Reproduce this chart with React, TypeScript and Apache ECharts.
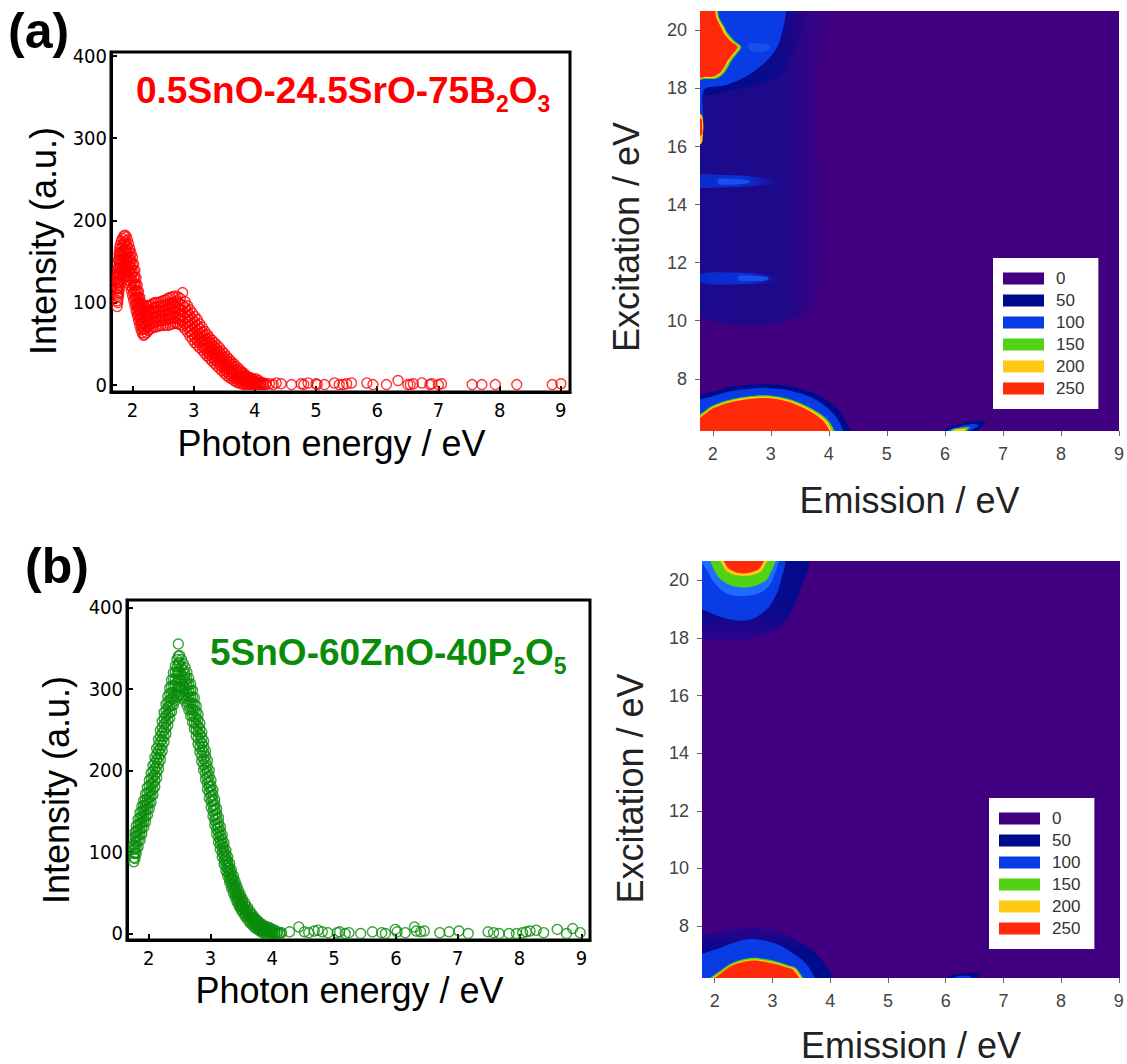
import React, { useEffect, useRef } from 'react';
import * as echarts from 'echarts';

const SANS = 'Liberation Sans, Arial, Helvetica, sans-serif';
const NARROW = 'Liberation Sans Narrow, Arial Narrow, DejaVu Sans Condensed, sans-serif';

// ---------- tick labels ----------
const scatterXTicks = [2, 3, 4, 5, 6, 7, 8, 9];
const scatterYTicks = [0, 100, 200, 300, 400];
const heatXTicks = [2, 3, 4, 5, 6, 7, 8, 9];
const heatYTicks = [8, 10, 12, 14, 16, 18, 20];
const legendLevels = ['0', '50', '100', '150', '200', '250'];

// ---------- spectrum (a): rows [x, y1, y2, ...] read across the dense band ----------
const redDenseRows = [
  [1.75, 95, 102, 110, 117, 124, 130], [1.76, 100, 108, 117, 126, 134, 141],
  [1.77, 106, 115, 124, 134, 143, 152], [1.78, 112, 121, 131, 141, 150, 160],
  [1.79, 118, 127, 137, 147, 157, 166], [1.8, 124, 133, 142, 152, 161, 170],
  [1.82, 130, 139, 148, 157, 166, 175], [1.84, 134, 143, 152, 160, 169, 178],
  [1.86, 137, 146, 155, 163, 172, 181], [1.88, 138, 147, 156, 165, 174, 182],
  [1.9, 136, 145, 154, 163, 171, 180], [1.92, 132, 141, 150, 159, 167, 176],
  [1.94, 127, 136, 145, 154, 162, 171], [1.96, 121, 130, 139, 148, 156, 165],
  [1.98, 115, 124, 133, 142, 151, 160], [2.0, 109, 118, 127, 136, 146, 155],
  [2.02, 103, 112, 121, 130, 138, 147], [2.04, 97, 105, 114, 122, 131, 139],
  [2.06, 90, 98, 106, 114, 122, 130], [2.08, 84, 91, 98, 106, 114, 121],
  [2.1, 78, 85, 92, 99, 106, 113], [2.12, 72, 79, 86, 92, 99, 106],
  [2.14, 67, 74, 80, 87, 94, 100], [2.16, 63, 70, 76, 83, 90, 97],
  [2.18, 60, 67, 74, 81, 88, 95], [2.2, 61, 68, 75, 81, 88, 95],
  [2.23, 63, 70, 76, 83, 89, 96], [2.26, 66, 72, 78, 84, 90, 96],
  [2.3, 68, 74, 80, 86, 91, 97], [2.34, 70, 76, 82, 88, 93, 99],
  [2.38, 70, 76, 82, 88, 94, 100], [2.42, 71, 77, 83, 89, 95, 100],
  [2.46, 72, 78, 84, 90, 96, 101], [2.5, 72, 78, 84, 90, 96, 102],
  [2.54, 73, 79, 85, 91, 97, 103], [2.58, 72, 79, 85, 92, 98, 105],
  [2.62, 73, 80, 86, 93, 99, 106], [2.66, 74, 81, 87, 94, 100, 107],
  [2.7, 75, 81, 88, 94, 101, 108], [2.74, 74, 80, 87, 93, 100, 107],
  [2.78, 73, 79, 85, 92, 98, 105], [2.82, 71, 77, 84, 90, 97, 112],
  [2.86, 68, 74, 81, 87, 94, 101], [2.9, 64, 70, 76, 83, 89, 96],
  [2.94, 59, 65, 71, 78, 84, 91], [2.98, 55, 61, 67, 74, 80, 87],
  [3.02, 51, 57, 63, 70, 76, 83], [3.06, 48, 54, 60, 66, 72, 79],
  [3.1, 45, 51, 57, 62, 68, 74], [3.14, 42, 47, 53, 59, 64, 70],
  [3.18, 38, 44, 49, 55, 60, 65], [3.22, 35, 40, 45, 51, 56, 61],
  [3.26, 32, 37, 42, 47, 52, 57], [3.3, 29, 34, 39, 44, 49, 54],
  [3.34, 26, 31, 36, 41, 46, 51], [3.38, 23, 28, 33, 38, 43, 48],
  [3.42, 20, 25, 30, 35, 40, 45], [3.46, 17, 22, 27, 32, 36, 41],
  [3.5, 14, 19, 24, 28, 33, 38], [3.54, 11, 16, 20, 25, 29, 34],
  [3.58, 9, 13, 18, 22, 27, 31], [3.62, 7, 11, 15, 19, 24, 28],
  [3.66, 5, 9, 13, 17, 21, 25], [3.7, 3, 7, 11, 14, 18, 22],
  [3.74, 2, 5, 9, 12, 16, 19], [3.78, 1, 4, 7, 10, 13, 16],
  [3.82, 0, 3, 6, 9, 11, 14], [3.86, 0, 2, 4, 7, 9, 11],
  [3.9, 0, 2, 4, 6, 9], [3.94, 0, 1, 3, 6, 8], [3.98, 0, 2, 4, 6],
  [4.02, 0, 1, 4, 7], [4.06, 0, 2, 5], [4.1, 0, 1, 3], [4.14, 0, 2], [4.18, 0, 1],
];
const redTail = [
  [4.24, 1], [4.3, 0], [4.35, 2], [4.43, 1], [4.6, 0], [4.76, 1], [4.8, 0], [4.87, 2],
  [5.0, 1], [5.02, 0], [5.14, 0], [5.3, 2], [5.38, 0], [5.44, 0], [5.5, 1], [5.58, 2],
  [5.83, 2], [5.93, 0], [6.15, 0], [6.34, 5], [6.5, 0], [6.54, 0], [6.59, 1], [6.73, 2],
  [6.86, 0], [6.89, 1], [7.0, 0], [7.05, 1], [7.55, 0], [7.71, 0], [7.93, 0], [8.28, 0],
  [8.86, 0], [9.0, 1],
];

// ---------- spectrum (b) ----------
const greenDenseRows = [
  [1.76, 88, 93, 98, 103, 108], [1.78, 92, 99, 106, 113, 119, 124],
  [1.8, 98, 105, 112, 119, 126, 132], [1.83, 106, 113, 120, 127, 134, 140],
  [1.86, 114, 121, 128, 135, 142, 148], [1.89, 122, 129, 136, 143, 150, 156],
  [1.92, 130, 137, 143, 150, 157, 163], [1.95, 137, 144, 151, 157, 164, 171],
  [1.98, 145, 152, 159, 165, 172, 179], [2.01, 153, 160, 167, 174, 181, 188],
  [2.04, 161, 168, 175, 183, 190, 197], [2.07, 170, 177, 184, 192, 199, 206],
  [2.1, 180, 187, 194, 202, 209, 216], [2.13, 191, 198, 205, 213, 220, 227],
  [2.16, 202, 209, 216, 224, 231, 238], [2.19, 213, 220, 227, 235, 242, 249],
  [2.22, 224, 231, 238, 246, 253, 260], [2.25, 235, 242, 249, 257, 264, 271],
  [2.28, 245, 252, 259, 267, 274, 281], [2.31, 255, 262, 269, 277, 284, 291],
  [2.34, 264, 271, 279, 286, 294, 301], [2.37, 272, 280, 288, 295, 303, 311],
  [2.4, 280, 288, 296, 304, 312, 320], [2.43, 286, 294, 303, 311, 320, 328],
  [2.46, 290, 299, 308, 318, 327, 336], [2.48, 292, 302, 311, 321, 331, 340, 355],
  [2.5, 293, 303, 312, 322, 332, 341], [2.53, 292, 301, 310, 318, 327, 336],
  [2.56, 289, 297, 306, 314, 323, 331], [2.59, 285, 293, 301, 310, 318, 326],
  [2.62, 280, 288, 296, 304, 312, 320], [2.65, 274, 282, 290, 297, 305, 313],
  [2.68, 267, 275, 283, 290, 298, 306], [2.71, 259, 267, 275, 282, 290, 298],
  [2.74, 251, 258, 266, 274, 281, 289], [2.77, 242, 249, 257, 264, 272, 279],
  [2.8, 232, 239, 247, 254, 262, 269], [2.83, 222, 229, 236, 244, 251, 258],
  [2.86, 211, 218, 225, 233, 240, 247], [2.89, 200, 207, 214, 222, 229, 236],
  [2.92, 189, 196, 203, 210, 217, 224], [2.95, 177, 184, 191, 198, 205, 212],
  [2.98, 166, 173, 180, 186, 193, 200], [3.01, 155, 162, 168, 175, 181, 188],
  [3.04, 144, 150, 157, 163, 170, 176], [3.07, 133, 139, 145, 152, 158, 164],
  [3.1, 122, 128, 134, 141, 147, 153], [3.13, 112, 118, 124, 130, 136, 142],
  [3.16, 103, 109, 114, 120, 125, 131], [3.19, 94, 99, 105, 110, 116, 121],
  [3.22, 85, 90, 96, 101, 106, 111], [3.25, 77, 82, 87, 92, 97, 102],
  [3.28, 70, 75, 80, 84, 89, 94], [3.31, 63, 67, 72, 77, 81, 86],
  [3.34, 56, 60, 65, 69, 74, 78], [3.37, 50, 54, 58, 63, 67, 71],
  [3.4, 44, 48, 52, 56, 60, 64], [3.43, 39, 43, 46, 50, 54, 58],
  [3.46, 34, 37, 41, 45, 48, 52], [3.49, 30, 33, 36, 40, 43, 47],
  [3.52, 26, 29, 32, 35, 39, 42], [3.56, 21, 24, 27, 30, 34, 37],
  [3.6, 17, 20, 23, 26, 29, 32], [3.64, 13, 16, 19, 21, 24, 27],
  [3.68, 10, 13, 15, 18, 20, 23], [3.72, 7, 10, 12, 14, 17, 19],
  [3.76, 5, 7, 9, 11, 14, 16], [3.8, 3, 5, 7, 9, 11, 13],
  [3.84, 1, 3, 5, 7, 9, 11], [3.88, 0, 2, 4, 6, 9], [3.92, 0, 2, 4, 6, 8],
  [3.96, 0, 1, 3, 5, 7], [4.0, 0, 2, 5], [4.04, 0, 1, 4], [4.08, 0, 2], [4.12, 0, 1],
];
const greenTail = [
  [4.15, 1], [4.28, 2], [4.43, 8], [4.52, 2], [4.59, 1], [4.68, 3], [4.74, 4], [4.81, 2],
  [4.9, 1], [5.05, 1], [5.09, 2], [5.18, 0], [5.24, 1], [5.43, 0], [5.62, 2], [5.77, 1],
  [5.83, 0], [5.99, 5], [6.02, 2], [6.15, 1], [6.3, 8], [6.33, 3], [6.4, 2], [6.46, 3],
  [6.71, 1], [6.86, 2], [7.02, 3], [7.17, 0], [7.49, 2], [7.58, 1], [7.67, 0], [7.83, 0],
  [7.95, 0], [8.05, 1], [8.11, 2], [8.17, 3], [8.27, 4], [8.39, 1], [8.61, 5], [8.76, 0],
  [8.86, 6], [8.98, 1],
];

// ---------- excitation-emission map (a): contour outlines [emission, excitation] ----------
const aZero = [[1.6, 5.9], [9.2, 5.9], [9.2, 21], [1.6, 21]];
const aHaze = [[1.6, 21], [4.0, 21], [3.9, 19.2], [3.75, 18.2], [3.72, 10.5], [1.6, 10.5]];
const aTopNavy = [[1.6, 21], [3.55, 21], [3.45, 19.5], [3.2, 18.5], [2.6, 18.05], [1.6, 17.9]];
const aTopBlue = [[1.6, 21], [3.2, 21], [3.15, 19.6], [2.95, 19.0], [2.6, 18.45], [2.2, 18.1], [1.85, 17.95], [1.82, 16.5], [1.6, 16.4]];
const aTopGlow = [[2.62, 19.55], [2.95, 19.52], [3.0, 19.4], [2.9, 19.28], [2.65, 19.3]];
const aTopGreen = [[1.6, 21], [2.04, 21], [2.11, 20.45], [2.2, 20.12], [2.26, 19.9], [2.37, 19.65], [2.49, 19.43], [2.41, 19.18], [2.32, 18.95], [2.26, 18.72], [2.2, 18.54], [2.12, 18.4], [2.03, 18.33], [1.86, 18.33], [1.6, 18.28]];
const aTopYellow = [[1.6, 21], [2.02, 21], [2.09, 20.45], [2.18, 20.12], [2.24, 19.88], [2.34, 19.63], [2.46, 19.43], [2.38, 19.19], [2.29, 18.96], [2.23, 18.74], [2.17, 18.56], [2.09, 18.43], [2.0, 18.36], [1.86, 18.36], [1.6, 18.31]];
const aTopRed = [[1.6, 21], [2.0, 21], [2.06, 20.45], [2.14, 20.12], [2.2, 19.88], [2.31, 19.63], [2.43, 19.43], [2.35, 19.2], [2.26, 18.97], [2.2, 18.74], [2.14, 18.57], [2.06, 18.46], [1.98, 18.4], [1.86, 18.4], [1.6, 18.34]];
const aSliverYellow = [[1.6, 17.15], [1.8, 17.1], [1.835, 16.8], [1.83, 16.4], [1.8, 16.1], [1.6, 16.05]];
const aSliverRed = [[1.6, 17.0], [1.8, 16.95], [1.815, 16.7], [1.81, 16.4], [1.6, 16.3]];
const aStreakHigh = [[1.6, 15.0], [2.2, 15.02], [2.7, 14.96], [3.2, 14.8], [2.7, 14.64], [2.2, 14.6], [1.6, 14.62]];
const aStreakHighCore = [[2.1, 14.88], [2.55, 14.86], [2.65, 14.79], [2.55, 14.72], [2.1, 14.7]];
const aStreakLow = [[1.8, 11.62], [2.4, 11.66], [2.9, 11.6], [3.15, 11.45], [2.9, 11.3], [2.4, 11.26], [1.8, 11.3]];
const aStreakLowCore = [[2.45, 11.54], [2.9, 11.52], [2.97, 11.45], [2.9, 11.38], [2.45, 11.38]];
const aBotNavy = [[1.6, 5.9], [1.6, 7.25], [2.0, 7.55], [2.4, 7.75], [2.9, 7.82], [3.3, 7.75], [3.75, 7.5], [4.1, 7.05], [4.3, 6.5], [4.4, 5.9]];
const aBotBlue = [[1.6, 5.9], [1.6, 7.1], [2.0, 7.4], [2.4, 7.6], [2.9, 7.68], [3.3, 7.6], [3.7, 7.35], [4.0, 6.95], [4.18, 6.5], [4.25, 5.9]];
const aBotGreen = [[1.6, 5.9], [1.6, 6.62], [1.78, 6.78], [2.0, 7.08], [2.36, 7.31], [2.76, 7.42], [2.99, 7.42], [3.3, 7.31], [3.6, 7.08], [3.85, 6.8], [4.02, 6.48], [4.12, 5.9]];
const aBotYellow = [[1.6, 5.9], [1.6, 6.57], [1.78, 6.72], [2.0, 7.03], [2.36, 7.27], [2.76, 7.38], [2.99, 7.38], [3.3, 7.27], [3.58, 7.04], [3.83, 6.76], [3.99, 6.46], [4.08, 5.9]];
const aBotRed = [[1.6, 5.9], [1.6, 6.5], [1.78, 6.66], [2.01, 6.99], [2.36, 7.22], [2.76, 7.33], [2.99, 7.33], [3.29, 7.22], [3.57, 6.99], [3.8, 6.72], [3.95, 6.43], [4.04, 5.9]];
const aSmallNavy = [[5.9, 5.9], [6.0, 6.25], [6.3, 6.45], [6.55, 6.56], [6.7, 6.5], [6.6, 6.3], [6.45, 5.9]];
const aSmallBlue = [[6.0, 5.9], [6.05, 6.22], [6.3, 6.38], [6.5, 6.45], [6.58, 6.38], [6.45, 6.22], [6.35, 5.9]];
const aSmallGreen = [[6.05, 5.9], [6.1, 6.22], [6.3, 6.32], [6.43, 6.33], [6.38, 6.22], [6.3, 5.9]];
const aSmallYellow = [[6.1, 5.9], [6.14, 6.22], [6.3, 6.28], [6.36, 6.24], [6.3, 5.9]];

// ---------- excitation-emission map (b) ----------
const bZero = [[1.6, 5.9], [9.2, 5.9], [9.2, 21], [1.6, 21]];
const bTopNavy = [[1.6, 21], [3.6, 21], [3.45, 19.5], [3.15, 18.4], [2.6, 17.95], [2.1, 17.95], [1.6, 18.0]];
const bTopBlue = [[1.6, 21], [3.18, 21], [3.12, 19.8], [2.95, 19.1], [2.7, 18.7], [2.45, 18.6], [2.15, 18.7], [1.9, 18.9], [1.6, 19.2]];
const bTopGlow = [[1.7, 21], [3.08, 21], [3.0, 20.0], [2.82, 19.6], [2.5, 19.45], [2.2, 19.55], [2.0, 19.9], [1.85, 20.4]];
const bTopGreen = [[1.92, 21], [3.05, 21], [2.93, 20.1], [2.75, 19.85], [2.5, 19.75], [2.25, 19.85], [2.05, 20.15]];
const bTopYellow = [[2.08, 21], [2.93, 21], [2.82, 20.35], [2.65, 20.18], [2.5, 20.15], [2.32, 20.2], [2.17, 20.4]];
const bTopRed = [[2.12, 21], [2.89, 21], [2.78, 20.42], [2.66, 20.3], [2.5, 20.24], [2.34, 20.3], [2.22, 20.45]];
const bBotNavy = [[1.6, 5.9], [1.6, 7.5], [2.1, 7.8], [2.6, 7.95], [3.1, 7.8], [3.6, 7.3], [3.9, 6.7], [4.05, 5.9]];
const bBotBlue = [[1.6, 5.9], [1.6, 6.8], [2.1, 7.25], [2.6, 7.55], [3.05, 7.4], [3.4, 7.0], [3.62, 6.6], [3.75, 5.9]];
const bBotGreen = [[1.8, 5.9], [2.2, 6.6], [2.39, 6.79], [2.67, 6.9], [3.02, 6.8], [3.25, 6.66], [3.42, 6.52], [3.56, 5.9]];
const bBotYellow = [[1.84, 5.9], [2.21, 6.56], [2.39, 6.74], [2.67, 6.85], [3.02, 6.75], [3.23, 6.62], [3.4, 6.5], [3.53, 5.9]];
const bBotRed = [[1.88, 5.9], [2.21, 6.52], [2.39, 6.7], [2.67, 6.81], [3.02, 6.7], [3.22, 6.58], [3.37, 6.47], [3.5, 5.9]];
const bSmallNavy = [[5.95, 5.9], [6.0, 6.22], [6.3, 6.35], [6.6, 6.38], [6.55, 6.2], [6.5, 5.9]];
const bSmallBlue = [[6.1, 5.9], [6.15, 6.22], [6.35, 6.28], [6.45, 6.22], [6.4, 5.9]];

const levelColors: Record<string, string> = {
  '0': '#41007f', '50': '#000a8c', '100': '#0a3ce6',
  '150': '#52d214', '200': '#ffc814', '250': '#ff2a0a',
};

// fills for the in-between shades (soft fades of the measured map)
const hazeFill = () => new echarts.graphic.LinearGradient(0, 0, 1, 0, [
  { offset: 0, color: '#1a0a8c' }, { offset: 0.68, color: '#1e098a' }, { offset: 1, color: '#41007f' },
]);
const streakFill = () => new echarts.graphic.LinearGradient(0, 0, 1, 0, [
  { offset: 0, color: '#0a28c8' }, { offset: 0.55, color: '#0a30d8' }, { offset: 1, color: '#1e098a' },
]);
const navyFadeFill = () => new echarts.graphic.LinearGradient(0, 0, 1, 0, [
  { offset: 0, color: '#000a8c' }, { offset: 0.75, color: '#0a0a8c' }, { offset: 1, color: '#2a0486' },
]);
const navyDownFill = () => new echarts.graphic.LinearGradient(0, 0, 0, 1, [
  { offset: 0, color: '#000a8c' }, { offset: 0.7, color: '#0a0a8c' }, { offset: 1, color: '#33028a' },
]);
const navyUpFill = () => new echarts.graphic.LinearGradient(0, 0, 0, 1, [
  { offset: 0, color: '#2e0388' }, { offset: 0.4, color: '#000a8c' }, { offset: 1, color: '#000a8c' },
]);

type Layer = [string, number[][][], any?];
const mapALayers: Layer[] = [
  ['0', [aZero]],
  ['haze', [aHaze], hazeFill],
  ['50', [aTopNavy], navyFadeFill],
  ['50', [aBotNavy, aSmallNavy]],
  ['streak', [aStreakHigh, aStreakLow], streakFill],
  ['100', [aTopBlue, aBotBlue, aSmallBlue]],
  ['glow', [aStreakHighCore, aStreakLowCore, aTopGlow], () => '#1850f0'],
  ['150', [aTopGreen, aBotGreen, aSmallGreen]],
  ['200', [aTopYellow, aSliverYellow, aBotYellow, aSmallYellow]],
  ['250', [aTopRed, aSliverRed, aBotRed]],
];
const mapBLayers: Layer[] = [
  ['0', [bZero]],
  ['50', [bTopNavy], navyDownFill],
  ['50', [bBotNavy], navyUpFill],
  ['50', [bSmallNavy]],
  ['100', [bTopBlue, bBotBlue, bSmallBlue]],
  ['glow', [bTopGlow], () => '#1e6cff'],
  ['150', [bTopGreen, bBotGreen]],
  ['200', [bTopYellow, bBotYellow]],
  ['250', [bTopRed, bBotRed]],
];

function rowsToPoints(rows: number[][]) {
  const out: number[][] = [];
  rows.forEach((r) => {
    for (let i = 1; i < r.length; i++) out.push([r[0], r[i]]);
  });
  return out;
}

function layerSeries(layer: Layer, idx: number) {
  const [name, polys, fillFn] = layer;
  const color = levelColors[name] || '#000a8c';
  return {
    type: 'custom',
    name,
    xAxisIndex: idx,
    yAxisIndex: idx,
    clip: true,
    silent: true,
    itemStyle: { color },
    data: polys.map((p, i) => [p[0][0], p[0][1], i]),
    renderItem: (params: any, api: any) => {
      const pts = polys[params.dataIndex].map((pt) => api.coord(pt));
      return {
        type: 'polygon',
        shape: { points: pts, smooth: 0.3 },
        style: { fill: fillFn ? fillFn() : color },
      };
    },
  };
}

function scatterSeries(points: number[][], color: string, idx: number) {
  return {
    type: 'scatter',
    xAxisIndex: idx,
    yAxisIndex: idx,
    symbol: 'circle',
    symbolSize: 10,
    silent: true,
    itemStyle: { color: 'rgba(0,0,0,0)', borderColor: color, borderWidth: 1.4 },
    data: points,
  };
}

function scatterX(gridIndex: number, min: number, max: number, nameGap: number) {
  return {
    type: 'value', gridIndex, min, max,
    splitLine: { show: false },
    axisLine: { show: true, onZero: false, lineStyle: { color: '#000', width: 3 } },
    axisTick: { show: true, inside: true, length: 6, lineStyle: { color: '#000', width: 2 }, customValues: scatterXTicks },
    axisLabel: { customValues: scatterXTicks, color: '#000', fontSize: 20, fontFamily: NARROW, margin: 8 },
    name: 'Photon energy / eV', nameLocation: 'middle', nameGap,
    nameTextStyle: { fontSize: 36, fontFamily: SANS, color: '#000', padding: [0, 18, 0, 0] },
  };
}
function scatterY(gridIndex: number, min: number, max: number, nameGap: number, shift: number) {
  return {
    type: 'value', gridIndex, min, max,
    splitLine: { show: false },
    axisLine: { show: true, onZero: false, lineStyle: { color: '#000', width: 3 } },
    axisTick: { show: true, inside: true, length: 6, lineStyle: { color: '#000', width: 2 }, customValues: scatterYTicks },
    axisLabel: { customValues: scatterYTicks, color: '#000', fontSize: 20, fontFamily: NARROW, margin: 4 },
    name: 'Intensity (a.u.)', nameLocation: 'middle', nameGap,
    nameTextStyle: { fontSize: 36, fontFamily: SANS, color: '#000', lineHeight: 40, padding: [0, shift, 0, 0] },
  };
}
function heatX(gridIndex: number, max: number, nameGap: number) {
  return {
    type: 'value', gridIndex, min: 1.78, max,
    splitLine: { show: false },
    axisLine: { show: false },
    axisTick: { show: true, length: 5, lineStyle: { color: '#666', width: 1 }, customValues: heatXTicks },
    axisLabel: { customValues: heatXTicks, color: '#444', fontSize: 18, fontFamily: SANS, margin: 14 },
    name: 'Emission / eV', nameLocation: 'middle', nameGap,
    nameTextStyle: { fontSize: 36, fontFamily: SANS, color: '#222' },
  };
}
function heatY(gridIndex: number, nameGap: number, shift: number) {
  return {
    type: 'value', gridIndex, min: 6.2, max: 20.67,
    splitLine: { show: false },
    axisLine: { show: false },
    axisTick: { show: true, length: 5, lineStyle: { color: '#666', width: 1 }, customValues: heatYTicks },
    axisLabel: { customValues: heatYTicks, color: '#444', fontSize: 18, fontFamily: SANS, margin: 13 },
    name: 'Excitation / eV', nameLocation: 'middle', nameGap,
    nameTextStyle: { fontSize: 36, fontFamily: SANS, color: '#222', lineHeight: 40, padding: [0, shift, 0, 0] },
  };
}
function mapLegend(left: number, top: number) {
  return {
    data: legendLevels,
    orient: 'vertical',
    left, top,
    icon: 'rect',
    itemWidth: 41,
    itemHeight: 12,
    itemGap: 5,
    selectedMode: false,
    backgroundColor: '#fff',
    padding: [12, 14, 12, 10],
    textStyle: { fontSize: 17, color: '#333', fontFamily: SANS, lineHeight: 17, padding: [0, 0, 0, 7] },
  };
}

export default function App() {
  const ref = useRef<HTMLDivElement>(null);
  useEffect(() => {
    if (!ref.current) return;
    const chart = echarts.init(ref.current, null, { renderer: 'svg' });
    const series: any[] = [];
    mapALayers.forEach((layer) => series.push(layerSeries(layer, 1)));
    mapBLayers.forEach((layer) => series.push(layerSeries(layer, 3)));
    series.push(scatterSeries(rowsToPoints(redDenseRows).concat(redTail), '#ff0000', 0));
    series.push(scatterSeries(rowsToPoints(greenDenseRows).concat(greenTail), '#0a8c0a', 2));

    const option: any = {
      animation: false,
      backgroundColor: '#fff',
      grid: [
        { left: 111, top: 52, width: 459, height: 340, show: true, borderColor: '#000', borderWidth: 3 },
        { left: 700, top: 11, width: 420, height: 420 },
        { left: 127, top: 600, width: 463, height: 340, show: true, borderColor: '#000', borderWidth: 3 },
        { left: 702, top: 561, width: 418, height: 418 },
      ],
      xAxis: [
        scatterX(0, 1.65, 9.15, 33),
        heatX(1, 9.0, 51),
        scatterX(2, 1.65, 9.14, 32),
        heatX(3, 9.02, 49),
      ],
      yAxis: [
        scatterY(0, -9, 405, 48, 38),
        heatY(1, 54, 32),
        scatterY(2, -8, 409, 51, 40),
        heatY(3, 52, 38),
      ],
      legend: [mapLegend(993, 258), mapLegend(989, 798)],
      graphic: [
        { type: 'text', left: 8, top: 6, style: { text: '(a)', fontSize: 50, fontWeight: 'bold', fontFamily: SANS, fill: '#000' } },
        { type: 'text', left: 25, top: 541, style: { text: '(b)', fontSize: 50, fontWeight: 'bold', fontFamily: SANS, fill: '#000' } },
        {
          type: 'text', left: 136, top: 70,
          style: {
            text: '{m|0.5SnO-24.5SrO-75B}{s|2}{m|O}{s|3}',
            rich: {
              m: { fontSize: 37, fontWeight: 'bold', fontFamily: SANS, fill: '#ff0000', lineHeight: 40 },
              s: { fontSize: 23, fontWeight: 'bold', fontFamily: SANS, fill: '#ff0000', lineHeight: 40, verticalAlign: 'top', padding: [22, 0, 0, 0] },
            },
          },
        },
        {
          type: 'text', left: 210, top: 632,
          style: {
            text: '{m|5SnO-60ZnO-40P}{s|2}{m|O}{s|5}',
            rich: {
              m: { fontSize: 37, fontWeight: 'bold', fontFamily: SANS, fill: '#0a8c0a', lineHeight: 40 },
              s: { fontSize: 23, fontWeight: 'bold', fontFamily: SANS, fill: '#0a8c0a', lineHeight: 40, verticalAlign: 'top', padding: [22, 0, 0, 0] },
            },
          },
        },
      ],
      series,
    };
    chart.setOption(option);
    return () => chart.dispose();
  }, []);
  return <div ref={ref} style={{ position: 'absolute', left: 0, top: 0, width: 1127, height: 1064 }} />;
}
